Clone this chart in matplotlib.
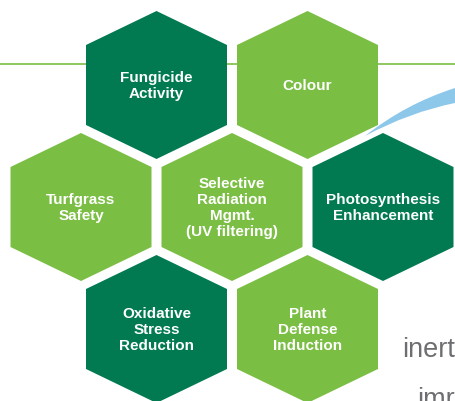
import matplotlib.pyplot as plt
from matplotlib.patches import Polygon, PathPatch
from matplotlib.path import Path

# hexagon labels, shade and place in the honeycomb (row, column)
labels = [
    "Fungicide\nActivity",
    "Colour",
    "Turfgrass\nSafety",
    "Selective\nRadiation\nMgmt.\n(UV filtering)",
    "Photosynthesis\nEnhancement",
    "Oxidative\nStress\nReduction",
    "Plant\nDefense\nInduction",
]
shades = ["dark", "light", "light", "light", "dark", "dark", "light"]
rows = [0, 0, 1, 1, 1, 2, 2]
cols = [0.5, 1.5, 0, 1, 2, 0.5, 1.5]

colors = {"dark": "#017A52", "light": "#7BBE44"}

plt.rcParams['font.family'] = ['Liberation Sans', 'DejaVu Sans']

fig = plt.figure(figsize=(4.55, 4.01), dpi=100)
ax = fig.add_axes([0, 0, 1, 1])
ax.set_xlim(0, 455)
ax.set_ylim(401, 0)
ax.axis('off')

# thin green rule behind the top row
ax.plot([0, 455], [64, 64], color=colors["light"], lw=1.2, zorder=1)

# blue swoosh on the right
verts = [(365, 136), (405, 104), (455, 88), (455, 103), (410, 112), (365, 136)]
codes = [Path.MOVETO, Path.CURVE3, Path.CURVE3, Path.LINETO, Path.CURVE3, Path.CURVE3]
ax.add_patch(PathPatch(Path(verts, codes), facecolor="#8DC8EA", edgecolor="none", zorder=1))

w, h, s = 70.5, 74, 40
for lab, sh, r, c in zip(labels, shades, rows, cols):
    cx = 81 + c * 151
    cy = 85 + r * 122
    pts = [(cx, cy - h), (cx + w, cy - s), (cx + w, cy + s),
           (cx, cy + h), (cx - w, cy + s), (cx - w, cy - s)]
    ax.add_patch(Polygon(pts, closed=True, facecolor=colors[sh], edgecolor="none", zorder=2))
    ax.text(cx, cy + 1, lab, ha='center', va='center', color='white',
            fontsize=11, fontweight='bold', linespacing=1.2, zorder=3)

# cropped slide text at the bottom right
ax.text(402, 357, "inert", color="#6D6E71", fontsize=19.5, ha='left', va='baseline')
ax.text(417, 407, "imr", color="#6D6E71", fontsize=19.5, ha='left', va='baseline')

fig.savefig("out.png", dpi=100)
